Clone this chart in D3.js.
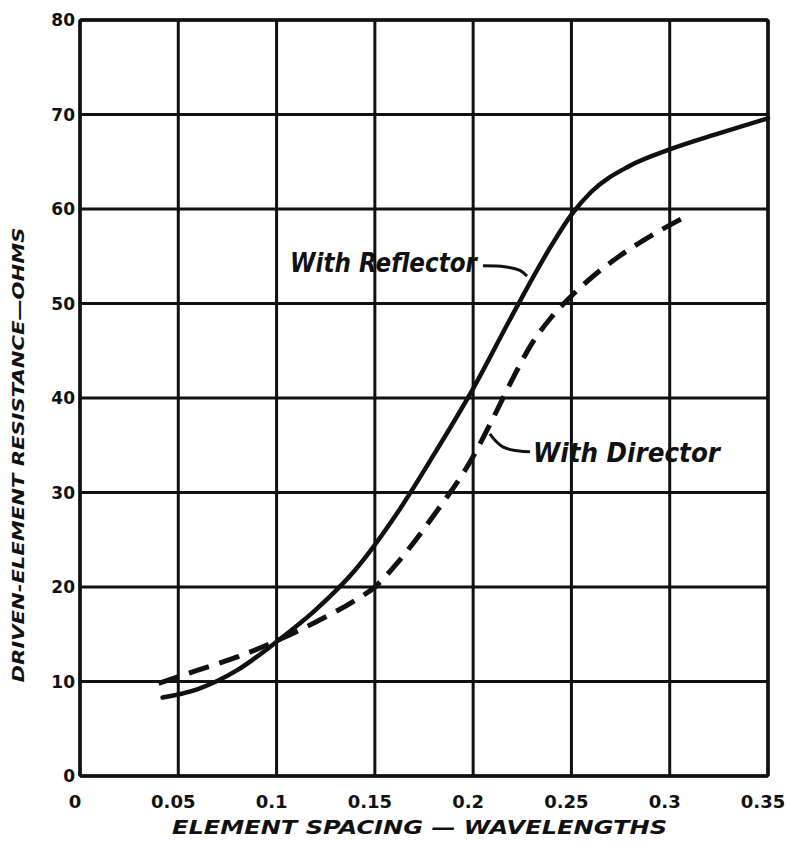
<!DOCTYPE html>
<html>
<head>
<meta charset="utf-8">
<script src="https://cdn.jsdelivr.net/npm/d3@7"></script>
<style>
  body { margin: 0; background: #fff; }
  svg { display: block; }
  text { fill: #111; font-family: "DejaVu Sans", sans-serif; }
</style>
</head>
<body>
<div id="chart"></div>
<script>
// tick values
var xTicks = [0, 0.05, 0.1, 0.15, 0.2, 0.25, 0.3, 0.35];
var xTickLabels = ["0", "0.05", "0.1", "0.15", "0.2", "0.25", "0.3", "0.35"];
var yTicks = [0, 10, 20, 30, 40, 50, 60, 70, 80];

// With Reflector (solid)
var reflX = [0.042, 0.06, 0.08, 0.10, 0.12, 0.14, 0.16, 0.18, 0.20, 0.22, 0.24, 0.25, 0.26, 0.28, 0.30, 0.325, 0.35];
var reflY = [8.3, 9.2, 11.2, 14.2, 17.6, 21.8, 27.4, 34.0, 41.0, 48.8, 56.2, 59.4, 61.8, 64.6, 66.3, 68.0, 69.6];

// With Director (dashed)
var dirX = [0.040, 0.06, 0.08, 0.10, 0.12, 0.14, 0.15, 0.16, 0.18, 0.20, 0.21, 0.22, 0.23, 0.24, 0.25, 0.26, 0.275, 0.29, 0.309];
var dirY = [9.8, 11.2, 12.6, 14.3, 16.3, 18.6, 20.0, 22.2, 27.6, 33.8, 37.8, 42.0, 45.8, 48.6, 50.8, 52.7, 55.1, 57.1, 59.3];

// leader lines for the curve labels (data coords)
var reflLeaderX = [0.205, 0.2161, 0.2238, 0.2274];
var reflLeaderY = [54.0, 53.9, 53.5, 52.9];
var dirLeaderX = [0.2085, 0.2153, 0.2289];
var dirLeaderY = [36.2, 34.8, 34.3];

var width = 786, height = 845;
var plotL = 80, plotR = 768, plotT = 20, plotB = 776;

var svg = d3.select("#chart").append("svg")
  .attr("width", width)
  .attr("height", height);

var x = d3.scaleLinear().domain([0, 0.35]).range([plotL, plotR]);
var y = d3.scaleLinear().domain([0, 80]).range([plotB, plotT]);

// grid
svg.append("g")
  .selectAll("line")
  .data(xTicks)
  .enter().append("line")
  .attr("x1", d => x(d)).attr("x2", d => x(d))
  .attr("y1", plotT).attr("y2", plotB)
  .attr("stroke", "#111").attr("stroke-width", 3);

svg.append("g")
  .selectAll("line")
  .data(yTicks)
  .enter().append("line")
  .attr("x1", plotL).attr("x2", plotR)
  .attr("y1", d => y(d)).attr("y2", d => y(d))
  .attr("stroke", "#111").attr("stroke-width", 3);

// frame
svg.append("rect")
  .attr("x", plotL).attr("y", plotT)
  .attr("width", plotR - plotL).attr("height", plotB - plotT)
  .attr("rx", 2)
  .attr("fill", "none").attr("stroke", "#111").attr("stroke-width", 3.5);

// tick labels
svg.append("g")
  .selectAll("text")
  .data(xTicks)
  .enter().append("text")
  .attr("x", d => x(d) - 5)
  .attr("y", 808)
  .attr("text-anchor", "middle")
  .attr("font-size", 18)
  .attr("font-weight", "bold")
  .text((d, i) => xTickLabels[i]);

svg.append("g")
  .selectAll("text")
  .data(yTicks)
  .enter().append("text")
  .attr("x", 75)
  .attr("y", d => y(d) + 6)
  .attr("text-anchor", "end")
  .attr("font-size", 17)
  .attr("font-weight", "bold")
  .text(d => d);

// axis titles
svg.append("text")
  .attr("x", 172)
  .attr("y", 834)
  .attr("font-size", 20)
  .attr("font-style", "italic")
  .attr("font-weight", "bold")
  .attr("textLength", 495)
  .attr("lengthAdjust", "spacingAndGlyphs")
  .text("ELEMENT SPACING — WAVELENGTHS");

svg.append("text")
  .attr("transform", "translate(24,455) rotate(-90)")
  .attr("text-anchor", "middle")
  .attr("font-size", 16)
  .attr("font-style", "italic")
  .attr("font-weight", "bold")
  .attr("textLength", 455)
  .attr("lengthAdjust", "spacingAndGlyphs")
  .text("DRIVEN-ELEMENT RESISTANCE—OHMS");

// curves
var line = d3.line()
  .x(d => x(d[0]))
  .y(d => y(d[1]))
  .curve(d3.curveMonotoneX);

var refl = reflX.map((v, i) => [v, reflY[i]]);
var dir = dirX.map((v, i) => [v, dirY[i]]);

svg.append("path")
  .datum(refl)
  .attr("d", line)
  .attr("fill", "none")
  .attr("stroke", "#111")
  .attr("stroke-width", 4.5)
  .attr("stroke-linecap", "round");

svg.append("path")
  .datum(dir)
  .attr("d", line)
  .attr("fill", "none")
  .attr("stroke", "#111")
  .attr("stroke-width", 5)
  .attr("stroke-dasharray", "21,11");

// labels + leaders
var leader = d3.line()
  .x(d => x(d[0]))
  .y(d => y(d[1]))
  .curve(d3.curveCatmullRom.alpha(0.5));

svg.append("path")
  .datum(reflLeaderX.map((v, i) => [v, reflLeaderY[i]]))
  .attr("d", leader)
  .attr("fill", "none").attr("stroke", "#111").attr("stroke-width", 3);

svg.append("path")
  .datum(dirLeaderX.map((v, i) => [v, dirLeaderY[i]]))
  .attr("d", leader)
  .attr("fill", "none").attr("stroke", "#111").attr("stroke-width", 3);

svg.append("text")
  .attr("x", 290).attr("y", 272)
  .attr("font-size", 26)
  .attr("font-style", "italic")
  .attr("font-weight", "bold")
  .attr("textLength", 187)
  .attr("lengthAdjust", "spacingAndGlyphs")
  .text("With Reflector");

svg.append("text")
  .attr("x", 533).attr("y", 462)
  .attr("font-size", 26)
  .attr("font-style", "italic")
  .attr("font-weight", "bold")
  .attr("textLength", 187)
  .attr("lengthAdjust", "spacingAndGlyphs")
  .text("With Director");
</script>
</body>
</html>
